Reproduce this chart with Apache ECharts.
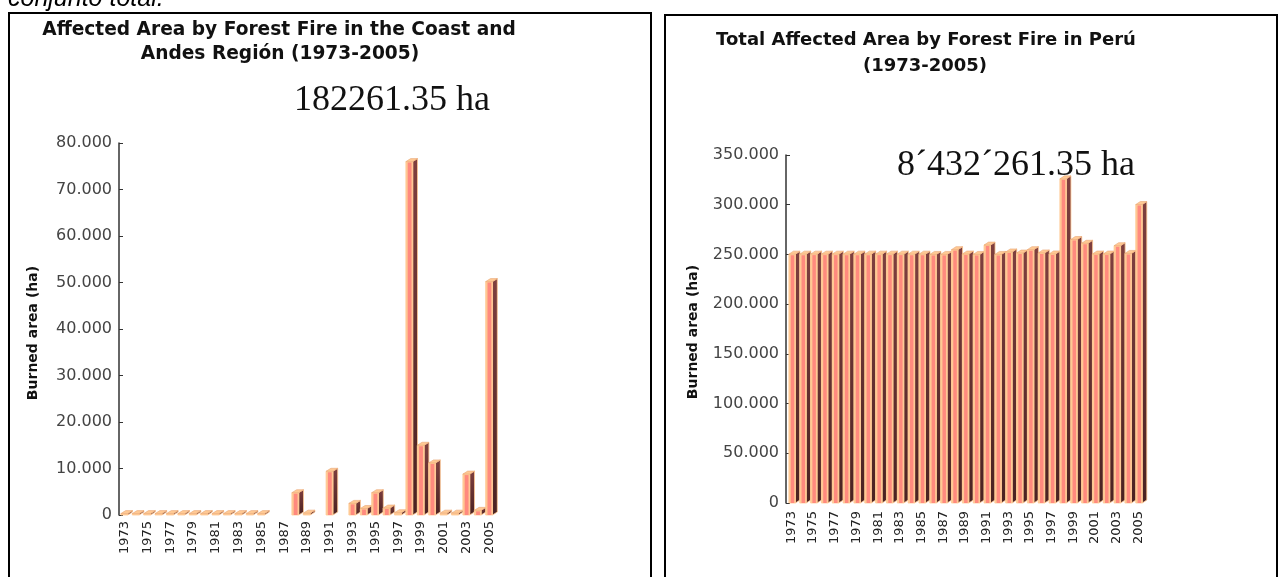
<!DOCTYPE html>
<html>
<head>
<meta charset="utf-8">
<script src="https://cdn.jsdelivr.net/npm/echarts@6/dist/echarts.min.js"></script>
<style>
  html, body { margin: 0; padding: 0; background: #ffffff; }
  #chart { width: 1280px; height: 577px; }
</style>
</head>
<body>
<div id="chart"></div>
<script>
// Years on both category axes
const years = ['1973','1974','1975','1976','1977','1978','1979','1980','1981','1982','1983',
  '1984','1985','1986','1987','1988','1989','1990','1991','1992','1993','1994','1995','1996',
  '1997','1998','1999','2000','2001','2002','2003','2004','2005'];

// Burned area (ha) in the Coast and Andes region
const coastAndesArea = [300, 300, 300, 300, 300, 300, 300, 300, 300, 300, 300,
  300, 300, 0, 0, 4800, 400, 0, 9400, 0, 2500, 1400, 4800, 1500,
  500, 76000, 15000, 11200, 400, 400, 8800, 1000, 50200];

// Total burned area (ha) in Peru
const peruTotalArea = [250300, 250300, 250300, 250300, 250300, 250300, 250300, 250300, 250300, 250300, 250300,
  250300, 250300, 250000, 250000, 254800, 250400, 250000, 259400, 250000, 252500, 251400, 254800, 251500,
  250500, 326000, 265000, 261200, 250400, 250400, 258800, 251000, 300200];

// Value-axis ranges
const coastAxis = { max: 80000, step: 10000 };
const peruAxis = { max: 350000, step: 50000 };

const coastTotalText = '182261.35 ha';
const peruTotalText = '8\u00B4432\u00B4261.35 ha';

const PEACH = '#FFC994';
const PINK = '#FF8A7E';
const sideFill = new echarts.graphic.LinearGradient(0, 0, 0, 1, [
  { offset: 0, color: '#7f3f3f' },
  { offset: 1, color: '#4a2222' }
]);

const dotted = v => String(v).replace(/\B(?=(\d{3})+(?!\d))/g, '.');

// Column with a lit front face, a dark side face and a top cap
function column3d(shift) {
  return function (params, api) {
    const v = api.value(1);
    if (!v) return null;
    const i = api.value(0);
    const base = api.coord([i, 0]);
    const top = api.coord([i, v]);
    const band = api.size([1, 0])[0];
    const fw = band * 0.6, dx = band * 0.42, dy = 3;
    const cx = base[0] + shift;
    const x0 = cx - (fw + dx) / 2, x1 = x0 + fw, x2 = x1 + dx;
    const yb = base[1], yt = top[1];
    const h = yb - yt;
    const kids = [
      { type: 'polygon', shape: { points: [[x1, yt], [x2, yt - dy], [x2, yb - dy], [x1, yb]] },
        style: { fill: sideFill, stroke: PEACH, lineWidth: 0.8 } },
      { type: 'rect', shape: { x: x0, y: yt, width: fw, height: h },
        style: { fill: PEACH, stroke: PEACH, lineWidth: 0.8 } }
    ];
    if (h > 3) {
      kids.push({ type: 'rect', shape: { x: x0 + 1.8, y: yt + 1, width: fw - 3, height: h - 1 },
        style: { fill: PINK } });
    }
    kids.push({ type: 'polygon', shape: { points: [[x0, yt], [x0 + dx, yt - dy], [x2, yt - dy], [x1, yt]] },
      style: { fill: PEACH, stroke: '#e9a877', lineWidth: 0.6 } });
    return { type: 'group', children: kids };
  };
}

function valueAxis(gridIndex, range) {
  return {
    type: 'value', gridIndex: gridIndex, min: 0, max: range.max, interval: range.step,
    splitLine: { show: false },
    axisLine: { show: true, lineStyle: { color: '#333', width: 1.5 } },
    axisTick: { show: true, inside: true, length: 4, lineStyle: { color: '#333' } },
    axisLabel: { formatter: dotted, fontFamily: 'DejaVu Sans', fontSize: 16, color: '#444', margin: 7 }
  };
}

function yearAxis(gridIndex, margin) {
  return {
    type: 'category', gridIndex: gridIndex, data: years, boundaryGap: true,
    axisLine: { show: false }, axisTick: { show: false },
    axisLabel: { interval: 1, rotate: 90, fontFamily: 'DejaVu Sans', fontSize: 13, color: '#222', margin: margin }
  };
}

const chart = echarts.init(document.getElementById('chart'), null, { renderer: 'canvas' });

const nameFont = 'bold 14px "DejaVu Sans"';

chart.setOption({
  animation: false,
  backgroundColor: '#ffffff',
  grid: [
    { left: 119, top: 143, width: 376.2, height: 372 },
    { left: 786, top: 155, width: 357.7, height: 348 }
  ],
  xAxis: [yearAxis(0, 6), yearAxis(1, 8)],
  yAxis: [valueAxis(0, coastAxis), valueAxis(1, peruAxis)],
  series: [
    { type: 'custom', xAxisIndex: 0, yAxisIndex: 0, z: 3, encode: { x: 0, y: 1 },
      renderItem: column3d(2), data: coastAndesArea.map((v, i) => [i, v]) },
    { type: 'custom', xAxisIndex: 1, yAxisIndex: 1, z: 3, encode: { x: 0, y: 1 },
      renderItem: column3d(3), data: peruTotalArea.map((v, i) => [i, v]) }
  ],
  graphic: [
    { type: 'text', x: 8, y: -1, z: 1,
      style: { text: 'conjunto total.', font: 'italic 25px "Liberation Sans"', fill: '#000', align: 'left', verticalAlign: 'middle' } },
    { type: 'rect', z: 1, shape: { x: 9, y: 13, width: 642, height: 600 },
      style: { fill: 'none', stroke: '#000', lineWidth: 2 } },
    { type: 'rect', z: 1, shape: { x: 665, y: 15, width: 612, height: 600 },
      style: { fill: 'none', stroke: '#000', lineWidth: 2 } },

    { type: 'text', x: 279, y: 30, z: 1,
      style: { text: 'Affected Area by Forest Fire in the Coast and', font: 'bold 18.6px "DejaVu Sans"', fill: '#111', align: 'center', verticalAlign: 'middle' } },
    { type: 'text', x: 280, y: 54, z: 1,
      style: { text: 'Andes Regi\u00F3n (1973-2005)', font: 'bold 18.6px "DejaVu Sans"', fill: '#111', align: 'center', verticalAlign: 'middle' } },
    { type: 'text', x: 392, y: 101, z: 1,
      style: { text: coastTotalText, font: '36px "Liberation Serif"', fill: '#111', align: 'center', verticalAlign: 'middle' } },
    { type: 'text', x: 33, y: 333, z: 1, rotation: Math.PI / 2,
      style: { text: 'Burned area (ha)', font: nameFont, fill: '#111', align: 'center', verticalAlign: 'middle' } },

    { type: 'text', x: 926, y: 40, z: 1,
      style: { text: 'Total Affected Area by Forest Fire in Per\u00FA', font: 'bold 18px "DejaVu Sans"', fill: '#111', align: 'center', verticalAlign: 'middle' } },
    { type: 'text', x: 925, y: 66, z: 1,
      style: { text: '(1973-2005)', font: 'bold 18px "DejaVu Sans"', fill: '#111', align: 'center', verticalAlign: 'middle' } },
    { type: 'text', x: 1016, y: 166, z: 1,
      style: { text: peruTotalText, font: '36px "Liberation Serif"', fill: '#111', align: 'center', verticalAlign: 'middle' } },
    { type: 'text', x: 693, y: 332, z: 1, rotation: Math.PI / 2,
      style: { text: 'Burned area (ha)', font: nameFont, fill: '#111', align: 'center', verticalAlign: 'middle' } }
  ]
});
</script>
</body>
</html>
